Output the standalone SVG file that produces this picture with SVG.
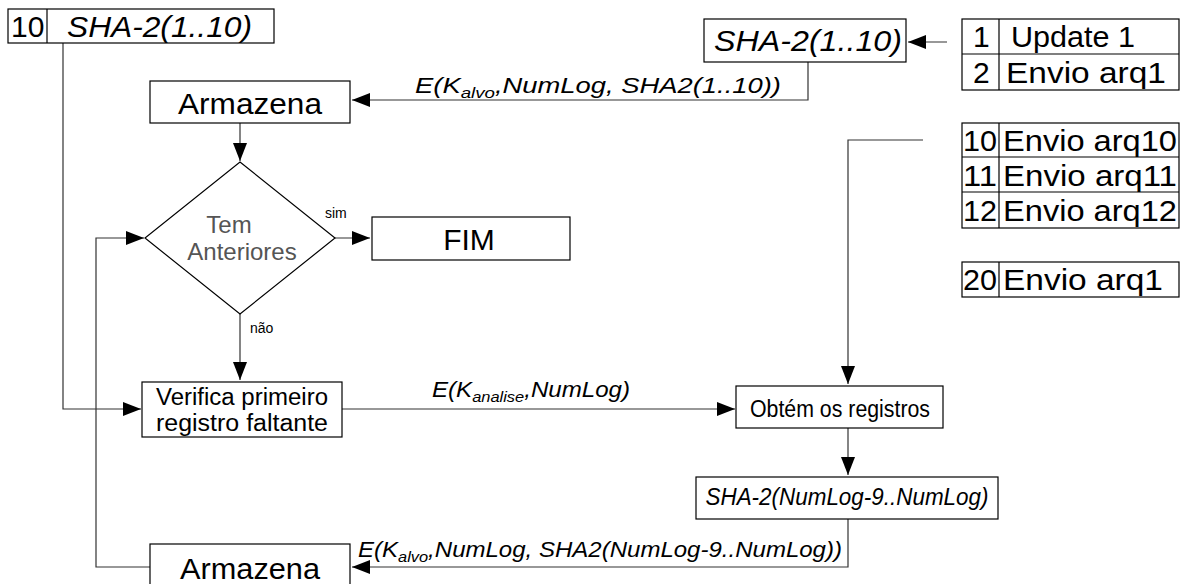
<svg xmlns="http://www.w3.org/2000/svg" width="1182" height="584" viewBox="0 0 1182 584">
  <style>
    .box { fill: #ffffff; stroke: #000000; stroke-width: 1.2; }
    .wire { fill: none; stroke: #333333; stroke-width: 1.2; }
    .rule { stroke: #000000; stroke-width: 1.2; }
    .txt { font-family: "Liberation Sans", Arial, sans-serif; fill: #000000; }
    .it { font-style: italic; }
    .big { font-size: 30px; }
    .mid { font-size: 23px; }
    .lbl { font-size: 22px; }
    .small { font-size: 14px; }
    .grey { fill: #555555; }
  </style>
  <defs>
    <marker id="arrow" markerUnits="userSpaceOnUse" markerWidth="20" markerHeight="16" refX="18" refY="8" orient="auto">
      <path d="M0,1 L18,8 L0,15 Z" fill="#000000"/>
    </marker>
  </defs>

  <rect width="1182" height="584" fill="#ffffff"/>

  <!-- connectors -->
  <g id="connectors">
    <!-- log table to computed SHA-2 -->
    <path class="wire" d="M947,42 L908,42" marker-end="url(#arrow)"/>
    <!-- computed SHA-2 down and left to Armazena -->
    <path class="wire" d="M808,62 L808,100 L352,100" marker-end="url(#arrow)"/>
    <!-- Armazena to decision -->
    <path class="wire" d="M240,123 L240,161" marker-end="url(#arrow)"/>
    <!-- decision: sim -->
    <path class="wire" d="M335,238 L370,238" marker-end="url(#arrow)"/>
    <!-- decision: nao -->
    <path class="wire" d="M240,314 L240,380" marker-end="url(#arrow)"/>
    <!-- stored hash to Verifica -->
    <path class="wire" d="M63,43 L63,409 L141,409" marker-end="url(#arrow)"/>
    <!-- loop back from lower Armazena to decision -->
    <path class="wire" d="M150,567 L96,567 L96,238 L144,238" marker-end="url(#arrow)"/>
    <!-- Verifica to Obtem -->
    <path class="wire" d="M342,409 L735,409" marker-end="url(#arrow)"/>
    <!-- log table to Obtem -->
    <path class="wire" d="M923,140 L848,140 L848,384" marker-end="url(#arrow)"/>
    <!-- Obtem to SHA-2(NumLog) -->
    <path class="wire" d="M848,428 L848,475" marker-end="url(#arrow)"/>
    <!-- SHA-2(NumLog) to lower Armazena -->
    <path class="wire" d="M848,519 L848,567 L352,567" marker-end="url(#arrow)"/>

    <text class="txt it lbl" x="415" y="93" textLength="366" lengthAdjust="spacingAndGlyphs">E(K<tspan font-size="15" dy="5">alvo</tspan><tspan dy="-5">,NumLog, SHA2(1..10))</tspan></text>
    <text class="txt it lbl" x="432" y="397" textLength="198" lengthAdjust="spacingAndGlyphs">E(K<tspan font-size="15" dy="5">analise</tspan><tspan dy="-5">,NumLog)</tspan></text>
    <text class="txt it lbl" x="358" y="557" textLength="484" lengthAdjust="spacingAndGlyphs">E(K<tspan font-size="15" dy="5">alvo</tspan><tspan dy="-5">,NumLog, SHA2(NumLog-9..NumLog))</tspan></text>
    <text class="txt small" x="325" y="218">sim</text>
    <text class="txt small" x="250" y="333">não</text>
  </g>

  <!-- stored record: 10 | SHA-2(1..10) -->
  <g id="stored-hash">
    <rect class="box" x="8" y="9" width="266" height="34"/>
    <line class="rule" x1="47" y1="9" x2="47" y2="43"/>
    <text class="txt big" x="11" y="37">10</text>
    <text class="txt it big" x="67" y="37" textLength="185" lengthAdjust="spacingAndGlyphs">SHA-2(1..10)</text>
  </g>

  <!-- computed SHA-2 -->
  <g id="sha-top">
    <rect class="box" x="704" y="19" width="202" height="43"/>
    <text class="txt it big" x="714" y="51" textLength="188" lengthAdjust="spacingAndGlyphs">SHA-2(1..10)</text>
  </g>

  <!-- log table, first entries -->
  <g id="log-1-2">
    <rect class="box" x="962" y="19" width="217" height="71"/>
    <line class="rule" x1="962" y1="54" x2="1179" y2="54"/>
    <line class="rule" x1="999" y1="19" x2="999" y2="90"/>
    <text class="txt big" x="973" y="47">1</text>
    <text class="txt big" x="1011" y="47" textLength="124" lengthAdjust="spacingAndGlyphs">Update 1</text>
    <text class="txt big" x="973" y="83">2</text>
    <text class="txt big" x="1006" y="83" textLength="160" lengthAdjust="spacingAndGlyphs">Envio arq1</text>
  </g>

  <!-- log table, later entries -->
  <g id="log-10-12">
    <rect class="box" x="962" y="123" width="217" height="105"/>
    <line class="rule" x1="962" y1="157" x2="1179" y2="157"/>
    <line class="rule" x1="962" y1="192" x2="1179" y2="192"/>
    <line class="rule" x1="999" y1="123" x2="999" y2="228"/>
    <text class="txt big" x="963" y="151" textLength="34" lengthAdjust="spacingAndGlyphs">10</text>
    <text class="txt big" x="1003" y="151" textLength="174" lengthAdjust="spacingAndGlyphs">Envio arq10</text>
    <text class="txt big" x="963" y="186" textLength="34" lengthAdjust="spacingAndGlyphs">11</text>
    <text class="txt big" x="1003" y="186" textLength="174" lengthAdjust="spacingAndGlyphs">Envio arq11</text>
    <text class="txt big" x="963" y="221" textLength="34" lengthAdjust="spacingAndGlyphs">12</text>
    <text class="txt big" x="1003" y="221" textLength="174" lengthAdjust="spacingAndGlyphs">Envio arq12</text>
  </g>

  <g id="log-20">
    <rect class="box" x="962" y="262" width="217" height="35"/>
    <line class="rule" x1="999" y1="262" x2="999" y2="297"/>
    <text class="txt big" x="963" y="290" textLength="34" lengthAdjust="spacingAndGlyphs">20</text>
    <text class="txt big" x="1003" y="290" textLength="160" lengthAdjust="spacingAndGlyphs">Envio arq1</text>
  </g>

  <g id="armazena-top">
    <rect class="box" x="150" y="81" width="200" height="42"/>
    <text class="txt big" x="250" y="114" text-anchor="middle" textLength="144" lengthAdjust="spacingAndGlyphs">Armazena</text>
  </g>

  <g id="decisao">
    <polygon class="box" points="240,162 335,238 240,314 145,238"/>
    <text class="txt grey" x="229" y="233" font-size="24" text-anchor="middle">Tem</text>
    <text class="txt grey" x="242" y="260" font-size="24" text-anchor="middle">Anteriores</text>
  </g>

  <g id="fim">
    <rect class="box" x="372" y="217" width="198" height="43"/>
    <text class="txt big" x="469" y="250" text-anchor="middle" font-size="31">FIM</text>
  </g>

  <g id="verifica">
    <rect class="box" x="142" y="382" width="200" height="55"/>
    <text class="txt mid" x="242" y="405" text-anchor="middle" textLength="172" lengthAdjust="spacingAndGlyphs">Verifica primeiro</text>
    <text class="txt mid" x="242" y="431" text-anchor="middle" textLength="172" lengthAdjust="spacingAndGlyphs">registro faltante</text>
  </g>

  <g id="obtem">
    <rect class="box" x="736" y="386" width="207" height="42"/>
    <text class="txt mid" x="840" y="417" text-anchor="middle" textLength="180" lengthAdjust="spacingAndGlyphs">Obtém os registros</text>
  </g>

  <g id="sha-numlog">
    <rect class="box" x="696" y="477" width="302" height="42"/>
    <text class="txt it mid" x="847" y="505" text-anchor="middle" textLength="283" lengthAdjust="spacingAndGlyphs">SHA-2(NumLog-9..NumLog)</text>
  </g>

  <g id="armazena-bottom">
    <rect class="box" x="150" y="544" width="200" height="44"/>
    <text class="txt big" x="250" y="579" text-anchor="middle" textLength="140" lengthAdjust="spacingAndGlyphs">Armazena</text>
  </g>
</svg>
